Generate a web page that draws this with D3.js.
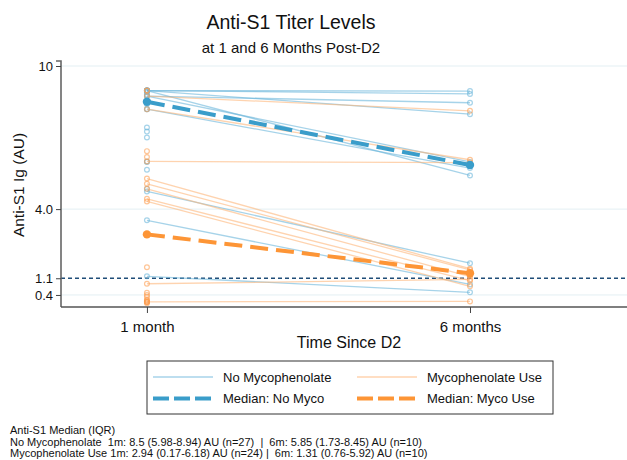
<!DOCTYPE html>
<html lang="en">
<head>
<meta charset="UTF-8">
<title>Anti-S1 Titer Levels</title>
<script src="https://d3js.org/d3.v7.min.js"></script>
<style>
  body { margin: 0; background: #fff; }
  text { font-family: "Liberation Sans", Arial, sans-serif; fill: #111; }
</style>
</head>
<body>
<script>
    const width = 627;
    const height = 460;

    // time points (months)
    const months = [1, 6];
    const monthLabels = ["1 month", "6 months"];
    const yTicks = [0.4, 1.1, 4.0, 10];
    const threshold = 1.1;

    // No mycophenolate: 1-month values, 6-month values (first 10 are paired)
    const noMyco1m = [8.97, 8.97, 8.74, 8.97, 8.74, 8.19, 8.97, 4.74, 3.53, 1.18,
                      8.97, 8.97, 8.97, 8.94, 8.94, 8.9, 8.8, 8.5, 8.4, 8.19,
                      7.42, 7.25, 7.0, 6.0, 5.98, 5.65, 4.85];
    const noMyco6m = [8.95, 8.83, 8.46, 7.98, 5.98, 5.72, 5.41, 1.73, 0.84, 0.51];

    // Mycophenolate use
    const myco1m = [8.74, 8.19, 6.0, 5.28, 5.06, 4.85, 4.43, 4.32, 0.87, 0.11,
                    8.97, 8.97, 6.43, 6.18, 1.56, 0.49, 0.4, 0.32, 0.2, 0.17,
                    0.12, 0.1, 0.1, 0.05];
    const myco6m = [8.12, 6.07, 5.95, 1.5, 1.45, 1.17, 1.0, 0.76, 1.05, 0.13];

    const medNoMyco = [8.5, 5.85];
    const medMyco = [2.94, 1.31];

    const legendItems = [
      {label: "No Mycophenolate", group: "no", median: false},
      {label: "Mycophenolate Use", group: "myco", median: false},
      {label: "Median: No Myco", group: "no", median: true},
      {label: "Median: Myco Use", group: "myco", median: true}
    ];

    const footer = [
      "Anti-S1 Median (IQR)",
      "No Mycophenolate  1m: 8.5 (5.98-8.94) AU (n=27)  |  6m: 5.85 (1.73-8.45) AU (n=10)",
      "Mycophenolate Use 1m: 2.94 (0.17-6.18) AU (n=24) |  6m: 1.31 (0.76-5.92) AU (n=10)"
    ];

    const colors = {
      no:   {line: "#6bb6da", point: "#6bb6da", median: "#3a9dca"},
      myco: {line: "#fdb67a", point: "#fd9f52", median: "#fd9536"}
    };

    const plot = {left: 61, right: 627, top: 61, bottom: 307};

    const x = d3.scaleLinear().domain([-0.33, 8.43]).range([plot.left, plot.right]);
    const y = d3.scaleLinear().domain([-0.105, 10.21]).range([plot.bottom, plot.top]);

    const svg = d3.select("body").append("svg")
        .attr("width", width).attr("height", height);

    // grid
    svg.append("g").selectAll("line")
        .data(yTicks.filter(d => d !== threshold))
        .enter().append("line")
        .attr("x1", plot.left).attr("x2", plot.right)
        .attr("y1", d => y(d)).attr("y2", d => y(d))
        .attr("stroke", "#e3eff3").attr("stroke-width", 1);

    // threshold
    svg.append("line")
        .attr("x1", plot.left).attr("x2", plot.right)
        .attr("y1", y(threshold)).attr("y2", y(threshold))
        .attr("stroke", "#1f4d78").attr("stroke-width", 1.3)
        .attr("stroke-dasharray", "4,3");

    function drawGroup(v1, v6, c) {
      const g = svg.append("g");
      v6.forEach((d, i) => {
        g.append("line")
          .attr("x1", x(months[0])).attr("y1", y(v1[i]))
          .attr("x2", x(months[1])).attr("y2", y(d))
          .attr("stroke", c.line).attr("stroke-opacity", 0.6).attr("stroke-width", 1.3);
      });
      g.selectAll("circle.m1").data(v1).enter().append("circle")
        .attr("cx", x(months[0])).attr("cy", d => y(d)).attr("r", 2.4)
        .attr("fill", "none").attr("stroke", c.point)
        .attr("stroke-opacity", 0.6).attr("stroke-width", 1.2);
      g.selectAll("circle.m6").data(v6).enter().append("circle")
        .attr("cx", x(months[1])).attr("cy", d => y(d)).attr("r", 2.4)
        .attr("fill", "none").attr("stroke", c.point)
        .attr("stroke-opacity", 0.6).attr("stroke-width", 1.2);
    }

    drawGroup(noMyco1m, noMyco6m, colors.no);
    drawGroup(myco1m, myco6m, colors.myco);

    function drawMedian(vals, c) {
      svg.append("line")
        .attr("x1", x(months[0])).attr("y1", y(vals[0]))
        .attr("x2", x(months[1])).attr("y2", y(vals[1]))
        .attr("stroke", c.median).attr("stroke-width", 4)
        .attr("stroke-dasharray", "18,8");
      svg.selectAll(null).data(vals).enter().append("circle")
        .attr("cx", (d, i) => x(months[i])).attr("cy", d => y(d)).attr("r", 4.2)
        .attr("fill", c.median);
    }
    drawMedian(medNoMyco, colors.no);
    drawMedian(medMyco, colors.myco);

    // axes
    const yAxis = d3.axisLeft(y).tickValues(yTicks).tickSize(5)
        .tickFormat(d => d === 10 ? "10" : d3.format(".1f")(d));
    const gy = svg.append("g").attr("transform", `translate(${plot.left},0)`).call(yAxis);
    gy.select(".domain").attr("d", `M-5,${plot.top}H0V${plot.bottom}`)
        .attr("stroke", "#666").attr("stroke-width", 1.6);
    gy.selectAll(".tick line").attr("stroke", "#444");
    gy.selectAll(".tick text").attr("font-size", 13).attr("fill", "#222")
        .style("font-family", "Liberation Sans, Arial, sans-serif");

    const xAxis = d3.axisBottom(x).tickValues(months).tickSize(6)
        .tickFormat((d, i) => monthLabels[i]);
    const gx = svg.append("g").attr("transform", `translate(0,${plot.bottom})`).call(xAxis);
    gx.select(".domain").attr("d", `M${plot.left},0H${plot.right}`)
        .attr("stroke", "#555").attr("stroke-width", 1.6);
    gx.selectAll(".tick line").attr("stroke", "#444");
    gx.selectAll(".tick text").attr("font-size", 15).attr("fill", "#111").attr("dy", "1.05em")
        .style("font-family", "Liberation Sans, Arial, sans-serif");

    // labels
    svg.append("text").attr("x", 291).attr("y", 29).attr("text-anchor", "middle")
        .attr("font-size", 19.5).text("Anti-S1 Titer Levels");
    svg.append("text").attr("x", 291).attr("y", 53).attr("text-anchor", "middle")
        .attr("font-size", 15).text("at 1 and 6 Months Post-D2");
    svg.append("text").attr("x", 349).attr("y", 348).attr("text-anchor", "middle")
        .attr("font-size", 16).text("Time Since D2");
    svg.append("text").attr("transform", "translate(24,185) rotate(-90)")
        .attr("text-anchor", "middle").attr("font-size", 15.5).text("Anti-S1 Ig (AU)");

    // legend
    const lg = svg.append("g");
    lg.append("rect").attr("x", 147).attr("y", 361).attr("width", 406).attr("height", 53)
        .attr("fill", "#fff").attr("stroke", "#333").attr("stroke-width", 1);
    legendItems.forEach((d, i) => {
      const cx = 153 + (i % 2) * 204;
      const cy = 377 + Math.floor(i / 2) * 21.5;
      const c = colors[d.group];
      lg.append("line").attr("x1", cx).attr("x2", cx + 60).attr("y1", cy).attr("y2", cy)
        .attr("stroke", d.median ? c.median : c.line)
        .attr("stroke-opacity", d.median ? 1 : 0.6)
        .attr("stroke-width", d.median ? 4 : 1.5)
        .attr("stroke-dasharray", d.median ? "16,5" : null);
      lg.append("text").attr("x", cx + 70).attr("y", cy + 4.5)
        .attr("font-size", 13).text(d.label);
    });

    // footer
    svg.append("g").selectAll("text").data(footer).enter().append("text")
        .attr("x", 10).attr("y", (d, i) => 434 + i * 11.5)
        .attr("font-size", 11).style("white-space", "pre").attr("xml:space", "preserve")
        .text(d => d);
</script>
</body>
</html>
